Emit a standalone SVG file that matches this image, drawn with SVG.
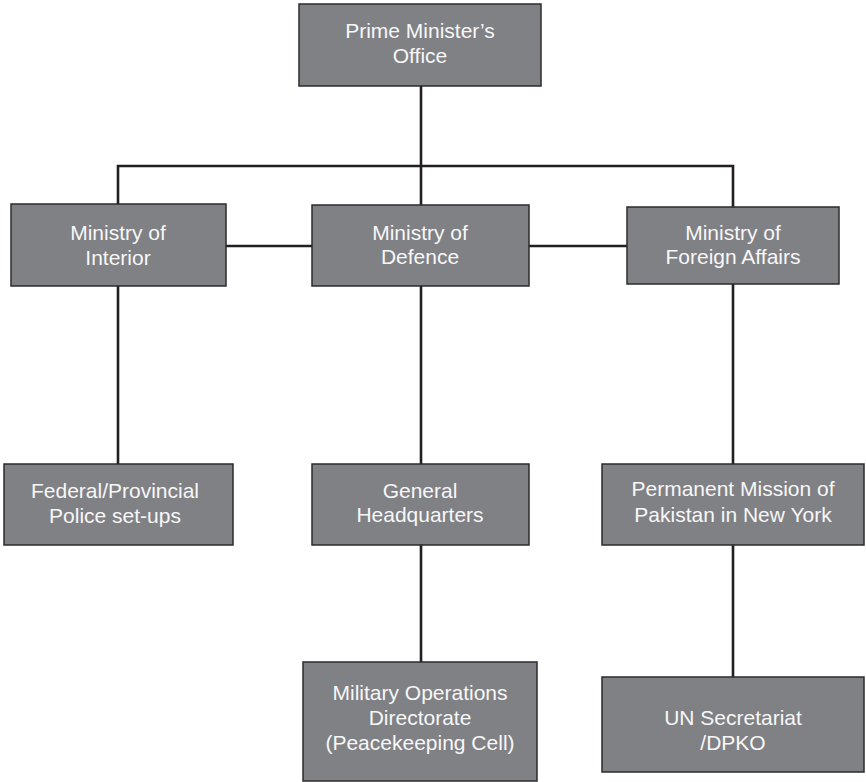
<svg xmlns="http://www.w3.org/2000/svg" width="866" height="782" viewBox="0 0 866 782">
<style>
.box{fill:#808185;stroke:#2b2a2c;stroke-width:1.5}
.t{font-family:"Liberation Sans",Arial,sans-serif;font-size:21px;fill:#f7f7f7;text-anchor:middle}
.c{stroke:#231f20;stroke-width:2.6;fill:none}
</style>
<rect width="866" height="782" fill="#ffffff"/>
<g id="connectors">
<path class="c" d="M421,86 V166"/>
<path class="c" d="M118,204 V166 H733 V207"/>
<path class="c" d="M421,166 V205"/>
<path class="c" d="M226,246 H312"/>
<path class="c" d="M529,246 H627"/>
<path class="c" d="M118,286 V464"/>
<path class="c" d="M421,286 V464"/>
<path class="c" d="M733,284 V464"/>
<path class="c" d="M421,545 V662"/>
<path class="c" d="M733,545 V677"/>
</g>
<g id="pm">
<rect class="box" x="299" y="4" width="242" height="82"/>
<text class="t" x="420" y="38">Prime Minister’s</text>
<text class="t" x="420" y="63">Office</text>
</g>
<g id="interior">
<rect class="box" x="11" y="204" width="215" height="82"/>
<text class="t" x="118" y="240">Ministry of</text>
<text class="t" x="118" y="265">Interior</text>
</g>
<g id="defence">
<rect class="box" x="312" y="205" width="217" height="81"/>
<text class="t" x="420" y="240">Ministry of</text>
<text class="t" x="420" y="264">Defence</text>
</g>
<g id="foreign">
<rect class="box" x="627" y="207" width="212" height="77"/>
<text class="t" x="733" y="240">Ministry of</text>
<text class="t" x="733" y="264">Foreign Affairs</text>
</g>
<g id="police">
<rect class="box" x="4" y="464" width="229" height="81"/>
<text class="t" x="115" y="498">Federal/Provincial</text>
<text class="t" x="115" y="523">Police set-ups</text>
</g>
<g id="ghq">
<rect class="box" x="312" y="464" width="217" height="81"/>
<text class="t" x="420" y="498">General</text>
<text class="t" x="420" y="522">Headquarters</text>
</g>
<g id="mission">
<rect class="box" x="602" y="464" width="262" height="81"/>
<text class="t" x="733" y="496">Permanent Mission of</text>
<text class="t" x="733" y="522">Pakistan in New York</text>
</g>
<g id="mod">
<rect class="box" x="303" y="662" width="234" height="119"/>
<text class="t" x="420" y="700">Military Operations</text>
<text class="t" x="420" y="725">Directorate</text>
<text class="t" x="420" y="750">(Peacekeeping Cell)</text>
</g>
<g id="un">
<rect class="box" x="602" y="677" width="262" height="95"/>
<text class="t" x="733" y="725">UN Secretariat</text>
<text class="t" x="733" y="750">/DPKO</text>
</g>
</svg>
